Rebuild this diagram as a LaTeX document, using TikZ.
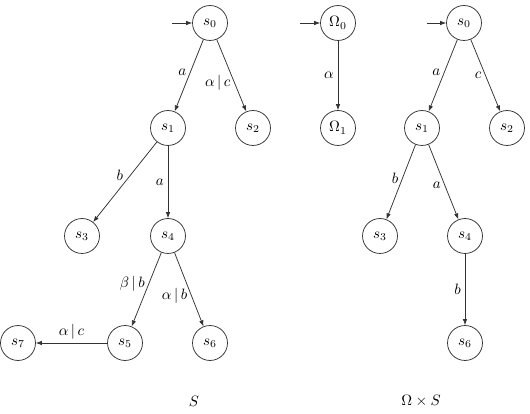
\documentclass[tikz,border=0pt]{standalone}
\usetikzlibrary{arrows.meta}
\begin{document}
\begin{tikzpicture}[x=0.6667pt,y=-0.6667pt,
  state/.style={circle,draw=black!80,line width=0.5pt,minimum size=23.3pt,inner sep=0pt},
  tr/.style={draw=black!80,line width=0.5pt,-{Latex[length=4pt,width=3pt]}},
  lbl/.style={inner sep=2.5pt}]
\useasboundingbox (0,0) rectangle (530,414);
% S
\node[state] (a0) at (210,23) {$s_0$};
\node[state] (a1) at (168,128) {$s_1$};
\node[state] (a2) at (253,128) {$s_2$};
\node[state] (a3) at (82,236) {$s_3$};
\node[state] (a4) at (168,236) {$s_4$};
\node[state] (a5) at (125,343) {$s_5$};
\node[state] (a6) at (210,343) {$s_6$};
\node[state] (a7) at (18,343) {$s_7$};
\coordinate (ai) at (172,23);
\draw[tr] (ai) -- (a0);
\draw[tr] (a0) -- node[pos=0.45,left,lbl]{$a$} (a1);
\draw[tr] (a0) -- node[pos=0.6,left,lbl]{$\alpha\,|\,c$} (a2);
\draw[tr] (a1) -- node[pos=0.5,above left,lbl,inner sep=1pt]{$b$} (a3);
\draw[tr] (a1) -- node[pos=0.5,left,lbl]{$a$} (a4);
\draw[tr] (a4) -- node[pos=0.42,left,lbl]{$\beta\,|\,b$} (a5);
\draw[tr] (a4) -- node[pos=0.58,left,lbl]{$\alpha\,|\,b$} (a6);
\draw[tr] (a5) -- node[pos=0.5,above,lbl]{$\alpha\,|\,c$} (a7);
\node (capS) at (194,401) {$S$};
% Omega
\node[state] (o0) at (338,23) {$\Omega_0$};
\node[state] (o1) at (338,128) {$\Omega_1$};
\coordinate (oi) at (300,23);
\draw[tr] (oi) -- (o0);
\draw[tr] (o0) -- node[pos=0.5,left,lbl]{$\alpha$} (o1);
% Omega x S
\node[state] (b0) at (464,23) {$s_0$};
\node[state] (b1) at (422,128) {$s_1$};
\node[state] (b2) at (507,128) {$s_2$};
\node[state] (b3) at (380,236) {$s_3$};
\node[state] (b4) at (465,236) {$s_4$};
\node[state] (b6) at (465,343) {$s_6$};
\coordinate (bi) at (427,23);
\draw[tr] (bi) -- (b0);
\draw[tr] (b0) -- node[pos=0.45,left,lbl]{$a$} (b1);
\draw[tr] (b0) -- node[pos=0.5,left,lbl]{$c$} (b2);
\draw[tr] (b1) -- node[pos=0.45,left,lbl]{$b$} (b3);
\draw[tr] (b1) -- node[pos=0.55,left,lbl]{$a$} (b4);
\draw[tr] (b4) -- node[pos=0.5,left,lbl]{$b$} (b6);
\node (capOS) at (421,401) {$\Omega\times S$};
\end{tikzpicture}
\end{document}
